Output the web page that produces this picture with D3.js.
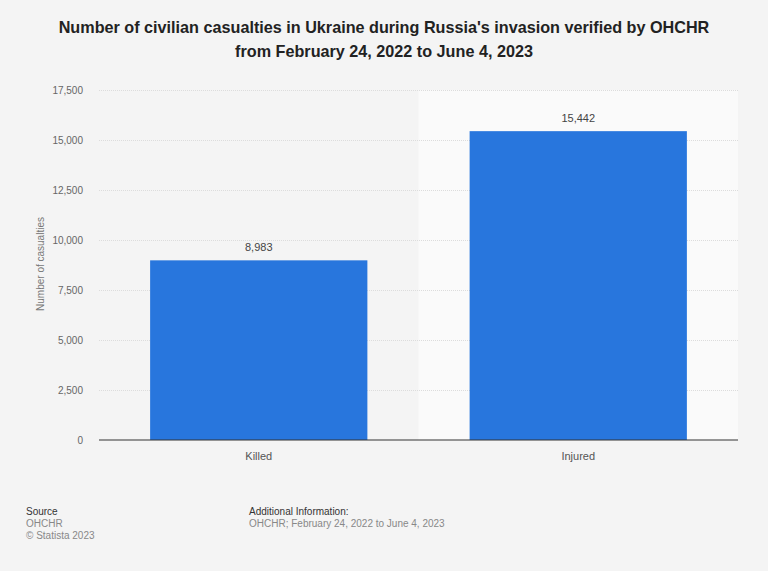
<!DOCTYPE html>
<html>
<head>
<meta charset="utf-8">
<script src="https://cdn.jsdelivr.net/npm/d3@7"></script>
<style>
  body { margin: 0; background: #f4f4f4; }
  svg { display: block; font-family: "Liberation Sans", Arial, sans-serif; }
  .grid line { stroke: #dcdcdc; stroke-dasharray: 1,1; }
  .grid .domain { display: none; }
  .y-axis .domain, .y-axis line { display: none; }
  .y-axis text { fill: #666; font-size: 10px; }
  .x-axis .domain, .x-axis line { display: none; }
  .x-axis text { fill: #555; font-size: 11px; }
</style>
</head>
<body>
<div id="wrapper"></div>
<script>
const categories = ["Killed", "Injured"]
const casualties = [8983, 15442]
const yTicks = [0, 2500, 5000, 7500, 10000, 12500, 15000, 17500]
const highlighted = "Injured"

function drawBarChart() {
    const dataset = categories.map((c, i) => ({category: c, value: casualties[i]}))
    const xAccessor = d => d.category
    const yAccessor = d => d.value

    // dimensions
    let dimensions = {
        width: 768,
        height: 571,
        margin: { top: 90, right: 30, bottom: 131, left: 99 },
    }
    dimensions.boundedWidth = dimensions.width - dimensions.margin.left - dimensions.margin.right
    dimensions.boundedHeight = dimensions.height - dimensions.margin.top - dimensions.margin.bottom

    const wrapper = d3.select("#wrapper")
        .append("svg")
        .attr("width", dimensions.width)
        .attr("height", dimensions.height)

    wrapper.append("rect")
        .attr("width", dimensions.width)
        .attr("height", dimensions.height)
        .attr("fill", "#f4f4f4")

    // title
    const title = wrapper.append("text")
        .attr("text-anchor", "middle")
        .attr("font-size", 16.2)
        .attr("font-weight", "bold")
        .attr("fill", "#222")
    title.append("tspan").attr("x", dimensions.width / 2).attr("y", 33)
        .text("Number of civilian casualties in Ukraine during Russia's invasion verified by OHCHR")
    title.append("tspan").attr("x", dimensions.width / 2).attr("y", 57)
        .text("from February 24, 2022 to June 4, 2023")

    const bounds = wrapper.append("g")
        .attr("transform", `translate(${dimensions.margin.left}, ${dimensions.margin.top})`)

    // scales
    const xScale = d3.scaleBand()
        .domain(categories)
        .range([0, dimensions.boundedWidth])
        .paddingInner(0.32)
        .paddingOuter(0.16)

    const yScale = d3.scaleLinear()
        .domain([0, d3.max(yTicks)])
        .range([dimensions.boundedHeight, 0])

    // highlighted band
    const step = xScale.step()
    bounds.append("rect")
        .attr("x", xScale(highlighted) - step * 0.16)
        .attr("y", 0)
        .attr("width", step)
        .attr("height", dimensions.boundedHeight)
        .attr("fill", "#fafafa")

    // grid
    bounds.append("g")
        .attr("class", "grid")
        .call(d3.axisLeft(yScale).tickValues(yTicks.filter(t => t > 0)).tickSize(-dimensions.boundedWidth).tickFormat(""))

    // bars
    bounds.selectAll(".bar")
        .data(dataset)
        .join("rect")
        .attr("class", "bar")
        .attr("x", d => xScale(xAccessor(d)))
        .attr("y", d => yScale(yAccessor(d)))
        .attr("width", xScale.bandwidth())
        .attr("height", d => dimensions.boundedHeight - yScale(yAccessor(d)))
        .attr("fill", "#2876dd")

    bounds.selectAll(".bar-label")
        .data(dataset)
        .join("text")
        .attr("class", "bar-label")
        .attr("x", d => xScale(xAccessor(d)) + xScale.bandwidth() / 2)
        .attr("y", d => yScale(yAccessor(d)) - 9)
        .attr("text-anchor", "middle")
        .attr("font-size", 11)
        .attr("fill", "#444")
        .text(d => d3.format(",")(yAccessor(d)))

    // baseline
    bounds.append("line")
        .attr("x1", 0)
        .attr("x2", dimensions.boundedWidth)
        .attr("y1", dimensions.boundedHeight)
        .attr("y2", dimensions.boundedHeight)
        .attr("stroke", "#333")
        .attr("stroke-width", 1)

    // axes
    bounds.append("g")
        .attr("class", "y-axis")
        .call(d3.axisLeft(yScale).tickValues(yTicks).tickSize(0).tickPadding(16).tickFormat(d3.format(",")))

    bounds.append("text")
        .attr("transform", `translate(${-dimensions.margin.left + 44}, ${dimensions.boundedHeight / 2 - 1}) rotate(-90)`)
        .attr("text-anchor", "middle")
        .attr("font-size", 10)
        .attr("fill", "#777")
        .text("Number of casualties")

    bounds.append("g")
        .attr("class", "x-axis")
        .attr("transform", `translate(0, ${dimensions.boundedHeight})`)
        .call(d3.axisBottom(xScale).tickSize(0).tickPadding(12))

    // footer
    const footer = wrapper.append("g").attr("font-size", 10)
    footer.append("text").attr("x", 26).attr("y", 515).attr("fill", "#333").text("Source")
    footer.append("text").attr("x", 26).attr("y", 527).attr("fill", "#888").text("OHCHR")
    footer.append("text").attr("x", 26).attr("y", 539).attr("fill", "#888").text("© Statista 2023")
    footer.append("text").attr("x", 249).attr("y", 515).attr("fill", "#333").text("Additional Information:")
    footer.append("text").attr("x", 249).attr("y", 527).attr("fill", "#888").text("OHCHR; February 24, 2022 to June 4, 2023")
}

drawBarChart()
</script>
</body>
</html>
